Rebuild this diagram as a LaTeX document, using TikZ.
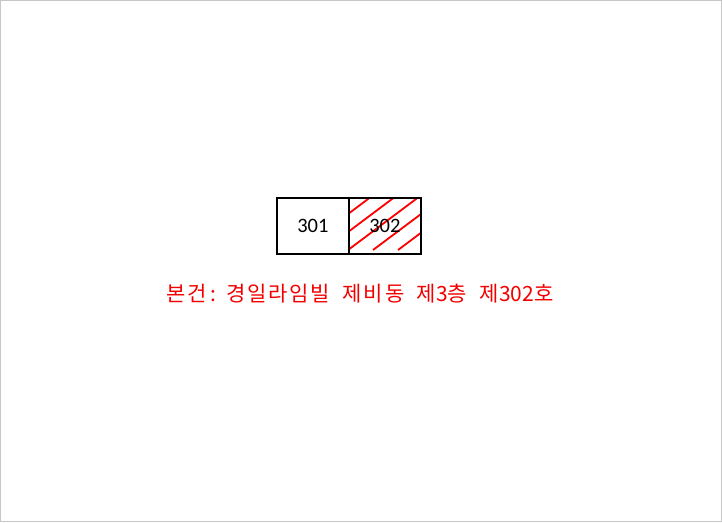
\documentclass[tikz,border=0pt]{standalone}
\usepackage{fontspec}
\newfontfamily\kor[LetterSpace=9]{Noto Sans CJK KR}
\newfontfamily\kd{Noto Sans CJK KR}
\newfontfamily\numf{Carlito}
\newcommand{\wsp}{\hspace{12.5pt}}
\newcommand{\hg}[1]{{\kor #1}}
\newcommand{\dg}[1]{{\kd #1}}
\begin{document}
\begin{tikzpicture}[x=1pt,y=-1pt,
  unit/.style={draw=black,line width=1.7pt,minimum width=72pt,minimum height=56pt,inner sep=0pt,anchor=north west},
  hatch/.style={draw=red,line width=1.8pt},
  lbl/.style={font=\numf\fontsize{20.5}{24}\selectfont,text=black}]
\useasboundingbox (0,0) rectangle (722,522);
\draw[draw=black!22,line width=0.8pt] (0.5,0.5) rectangle (721.5,521.5);
\node[unit] (u301) at (276,197) {};
\node[unit] (u302) at (348,197) {};
\begin{scope}
\clip (348,197) rectangle (421,250);
\foreach \x in {300,324,348,373,398} {
  \draw[hatch] (\x,250) -- ++(80,-60);
}
\end{scope}
\node[unit] at (348,197) {};
\node[lbl] (t301) at (u301.center) {301};
\node[lbl] (t302) at (u302.center) {302};
\node[font=\fontsize{21}{24}\selectfont,text=red!95!black] (cap) at (360,294) {\hg{본건}\hspace{3pt}\dg{:}\hspace{10pt}\hg{경일라임빌}\wsp\hg{제비동}\wsp\hg{제}\dg{3}\hg{층}\wsp\hg{제}\dg{302}\hg{호}};
\end{tikzpicture}
\end{document}
